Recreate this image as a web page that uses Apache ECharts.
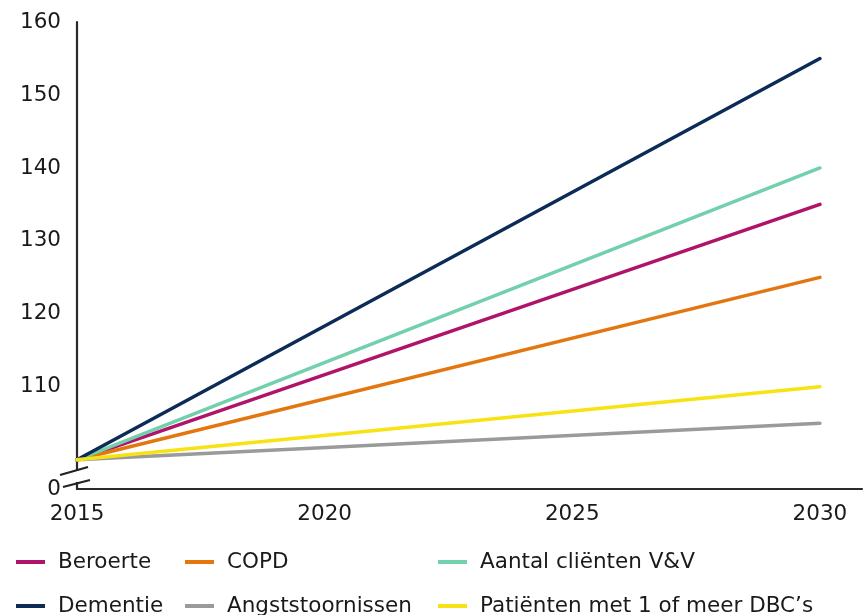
<!DOCTYPE html>
<html>
<head>
<meta charset="utf-8">
<script src="https://cdn.jsdelivr.net/npm/echarts@6/dist/echarts.min.js"></script>
<style>
html,body{margin:0;padding:0;background:#fff;}
#chart{width:865px;height:615px;}
</style>
</head>
<body>
<div id="chart"></div>
<script>
const years = [2015, 2030];
const seriesNames = ['Beroerte', 'COPD', 'Aantal cliënten V&V', 'Dementie', 'Angststoornissen', 'Patiënten met 1 of meer DBC’s'];
const beroerte = [100, 135];
const copd = [100, 125];
const vv = [100, 140];
const dementie = [100, 155];
const angst = [100, 105];
const dbc = [100, 110];
const xTickLabels = [2015, 2020, 2025, 2030];
const yTickLabels = [110, 120, 130, 140, 150, 160];
const yBreakLabel = '0';

const colors = ['#b0146a', '#e4760f', '#72d0ac', '#0c2c57', '#9a9a9a', '#f7e313'];
const values = [beroerte, copd, vv, dementie, angst, dbc];

const chart = echarts.init(document.getElementById('chart'));
const font = 'DejaVu Sans, Verdana, sans-serif';
const legendPos = [[16, 551], [185, 551], [438, 551], [16, 595], [185, 595], [438, 595]];

const option = {
  animation: false,
  backgroundColor: '#fff',
  grid: {left: 77, right: 2, top: 22, bottom: 126, containLabel: false},
  xAxis: {
    type: 'value', min: 2015, max: 2030.85, interval: 5,
    axisLine: {show: true, lineStyle: {color: '#2a2a2a', width: 2.2}},
    axisTick: {show: false}, splitLine: {show: false},
    axisLabel: {
      margin: 14, color: '#1a1a1a', fontSize: 21.5, fontFamily: font,
      formatter: v => xTickLabels.indexOf(v) >= 0 ? String(v) : ''
    }
  },
  yAxis: {
    type: 'value', min: 96, max: 160, interval: 2,
    axisLine: {show: true, lineStyle: {color: '#2a2a2a', width: 2.2}},
    axisTick: {show: false}, splitLine: {show: false},
    axisLabel: {
      margin: 16, color: '#1a1a1a', fontSize: 21.5, fontFamily: font,
      formatter: v => v === 96 ? yBreakLabel : (yTickLabels.indexOf(v) >= 0 ? String(v) : '')
    }
  },
  legend: seriesNames.map((n, i) => ({
    data: [n], left: legendPos[i][0], top: legendPos[i][1],
    icon: 'rect', itemWidth: 29, itemHeight: 4, padding: 0,
    textStyle: {fontSize: 21.5, fontFamily: font, color: '#1a1a1a', padding: [0, 0, 0, 8]}
  })),
  series: seriesNames.map((n, i) => ({
    name: n, type: 'line', showSymbol: false, symbol: 'none',
    data: years.map((y, j) => [y, values[i][j]]),
    lineStyle: {color: colors[i], width: 3.5, cap: 'round'},
    itemStyle: {color: colors[i]}
  }))
};
chart.setOption(option);

const o = chart.convertToPixel({gridIndex: 0}, [2015, 96]);
const ax = o[0], ay = o[1];
chart.setOption({
  graphic: [
    {type: 'rect', shape: {x: ax - 3, y: ay - 19, width: 6, height: 12}, style: {fill: '#fff'}, z: 100},
    {type: 'line', shape: {x1: ax - 17, y1: ay - 14, x2: ax + 11, y2: ay - 22}, style: {stroke: '#222', lineWidth: 2.2}, z: 101},
    {type: 'line', shape: {x1: ax - 14, y1: ay - 2, x2: ax + 13, y2: ay - 9}, style: {stroke: '#222', lineWidth: 2.2}, z: 101}
  ]
});
</script>
</body>
</html>
